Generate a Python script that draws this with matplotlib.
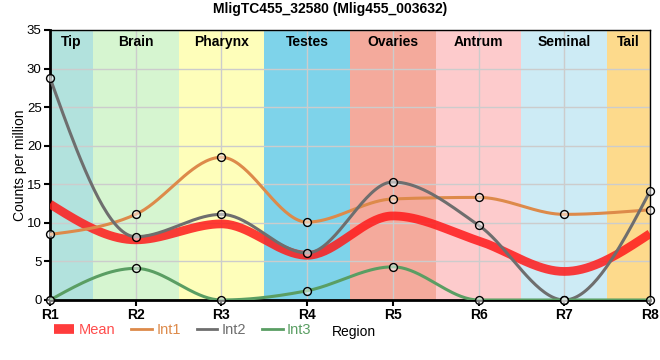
import numpy as np
import matplotlib
matplotlib.use('Agg')
import matplotlib.pyplot as plt
from matplotlib.lines import Line2D

plt.rcParams['font.family'] = ['Liberation Sans', 'DejaVu Sans']

# data
regions = ['R1', 'R2', 'R3', 'R4', 'R5', 'R6', 'R7', 'R8']
tissues = ['Tip', 'Brain', 'Pharynx', 'Testes', 'Ovaries', 'Antrum', 'Seminal', 'Tail']
tissue_colors = ['#b2e2dd', '#d6f5d0', '#fefeba', '#7ed3ea', '#f4aa9c', '#fdcbcc', '#cdebf5', '#fdda8c']
int1 = [8.5, 11.1, 18.5, 10.1, 13.1, 13.3, 11.1, 11.7]
int2 = [28.8, 8.2, 11.1, 6.1, 15.3, 9.7, 0.0, 14.1]
int3 = [0.0, 4.1, 0.0, 1.2, 4.3, 0.0, 0.0, 0.0]
mean = list(np.mean([int1, int2, int3], axis=0))


def monotone_curve(x, y, n=40):
    # same as d3.curveMonotoneX
    x = np.asarray(x, float)
    y = np.asarray(y, float)
    h = np.diff(x)
    s = np.diff(y) / h
    t = np.zeros(len(x))
    for i in range(1, len(x) - 1):
        p = (s[i - 1] * h[i] + s[i] * h[i - 1]) / (h[i - 1] + h[i])
        t[i] = (np.sign(s[i - 1]) + np.sign(s[i])) * min(abs(s[i - 1]), abs(s[i]), 0.5 * abs(p))
    t[0] = (3 * s[0] - t[1]) / 2
    t[-1] = (3 * s[-1] - t[-2]) / 2
    xs, ys = [], []
    u = np.linspace(0, 1, n)
    for i in range(len(x) - 1):
        dx = h[i] / 3
        px = [x[i], x[i] + dx, x[i + 1] - dx, x[i + 1]]
        py = [y[i], y[i] + dx * t[i], y[i + 1] - dx * t[i + 1], y[i + 1]]
        b = [(1 - u) ** 3, 3 * u * (1 - u) ** 2, 3 * u ** 2 * (1 - u), u ** 3]
        xs.append(sum(bb * pp for bb, pp in zip(b, px)))
        ys.append(sum(bb * pp for bb, pp in zip(b, py)))
    return np.concatenate(xs), np.concatenate(ys)


fig = plt.figure(figsize=(6.6, 3.6), dpi=100)
ax = fig.add_axes([50 / 660, 60 / 360, 600 / 660, 270 / 360])

xpos = np.arange(len(regions))
for i, (name, col) in enumerate(zip(tissues, tissue_colors)):
    lo = max(i - 0.5, 0)
    hi = min(i + 0.5, len(regions) - 1)
    ax.axvspan(lo, hi, color=col, lw=0, zorder=0)
    ax.text((lo + hi) / 2, 34.3, name, ha='center', va='top', fontsize=10,
            fontweight='bold', zorder=5)

ax.set_xlim(0, len(regions) - 1)
ax.set_ylim(0, 35)
ax.set_yticks(np.arange(0, 36, 5))
ax.set_xticks(xpos)
ax.set_xticklabels(regions, fontweight='bold', fontsize=10)
ax.tick_params(axis='y', labelsize=9.5, length=4, width=1.5, pad=2)
ax.tick_params(axis='x', length=4, width=1.5, pad=2)
ax.grid(True, color='#cccccc', lw=1, zorder=1)
ax.set_axisbelow(True)
for side in ['left', 'bottom']:
    ax.spines[side].set_linewidth(2)
for side in ['top', 'right']:
    ax.spines[side].set_linewidth(1)

mx, my = monotone_curve(xpos, mean)
ax.plot(mx, my, color='#ff1a1a', lw=6.3, alpha=0.85, zorder=3, solid_capstyle='butt')

series = [(int1, '#dd8a4a', 'Int1'), (int2, '#6e6e6e', 'Int2'), (int3, '#5a9e63', 'Int3')]
for vals, col, lab in series:
    cx, cy = monotone_curve(xpos, vals)
    ax.plot(cx, cy, color=col, lw=2.2, zorder=4)
for vals, col, lab in series:
    ax.scatter(xpos, vals, s=32, facecolor=(1, 1, 1, 0.5), edgecolor='black',
               lw=1, zorder=6, clip_on=False)

ax.set_ylabel('Counts per million', fontsize=10, labelpad=0)
fig.text(0.5, 0.975, 'MligTC455_32580 (Mlig455_003632)', ha='center', va='center',
         fontsize=10, fontweight='bold')

handles = [Line2D([], [], color='#ff1a1a', lw=7, alpha=0.85, solid_capstyle='butt'),
           Line2D([], [], color='#dd8a4a', lw=2),
           Line2D([], [], color='#6e6e6e', lw=2),
           Line2D([], [], color='#5a9e63', lw=2)]
leg = fig.legend(handles, ['Mean', 'Int1', 'Int2', 'Int3'], ncol=4, frameon=False,
                 loc='center left', bbox_to_anchor=(54 / 660, 30 / 360), fontsize=10.5,
                 handlelength=1.4, handletextpad=0.3, columnspacing=1.1,
                 borderpad=0, borderaxespad=0)
for txt, col in zip(leg.get_texts(), ['#ff4d4d', '#dd8a4a', '#6e6e6e', '#5a9e63']):
    txt.set_color(col)
fig.text(332 / 660, 28 / 360, 'Region', ha='left', va='center', fontsize=10)

fig.savefig('out.png', dpi=100)
